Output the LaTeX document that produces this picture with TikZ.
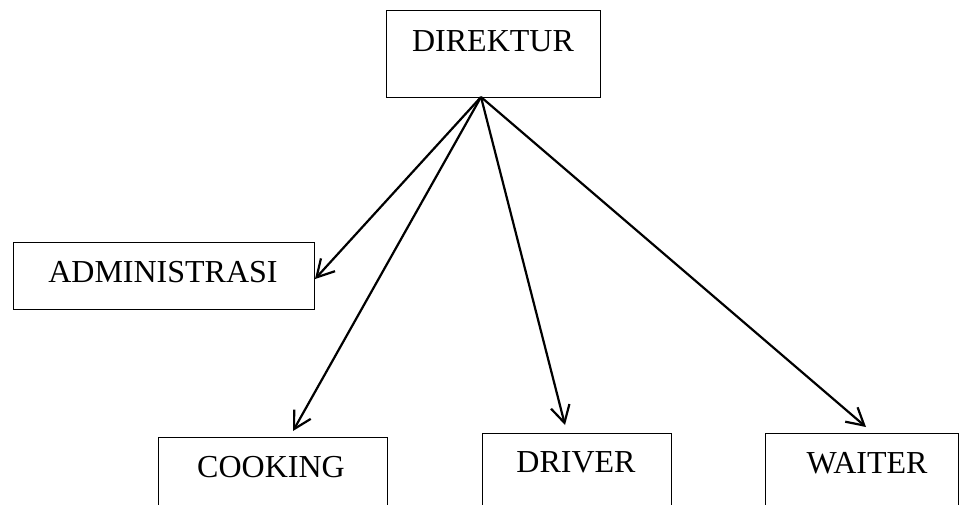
\documentclass[tikz,border=0pt]{standalone}
\usepackage{fontspec}
\setmainfont{Liberation Serif}
\usetikzlibrary{arrows.meta}
\begin{document}
\begin{tikzpicture}[x=1pt,y=-1pt,
  box/.style={draw, line width=1.3pt, inner sep=0pt, anchor=north west},
  lbl/.style={font=\fontsize{32}{38}\selectfont, anchor=base, inner sep=0pt},
  arr/.style={line width=2.2pt, -{Straight Barb[length=17pt,width=19pt,line width=2.2pt]}}]
\useasboundingbox (0,0) rectangle (960,504);
\clip (0,0) rectangle (960,504);
\node[box, minimum width=214pt, minimum height=87pt] (dir) at (386,10) {};
\node[box, minimum width=301pt, minimum height=67pt] (adm) at (13,242) {};
\node[box, minimum width=229pt, minimum height=90pt] (cook) at (158,437) {};
\node[box, minimum width=189pt, minimum height=90pt] (drv) at (482,433) {};
\node[box, minimum width=193pt, minimum height=90pt] (wait) at (765,433) {};
\node[lbl] (tdir) at (493,51) {DIREKTUR};
\node[lbl] (tadm) at (163,282) {ADMINISTRASI};
\node[lbl] (tcook) at (271,477) {COOKING};
\node[lbl] (tdrv) at (576,472) {DRIVER};
\node[lbl] (twait) at (867,473) {WAITER};
\coordinate (o) at (481,97);
\coordinate (ta) at (315,279);
\coordinate (tc) at (293,431);
\coordinate (td) at (565,425);
\coordinate (tw) at (866,427);
\draw[arr] (o) -- (ta);
\draw[arr] (o) -- (tc);
\draw[arr] (o) -- (td);
\draw[arr] (o) -- (tw);
\end{tikzpicture}
\end{document}
